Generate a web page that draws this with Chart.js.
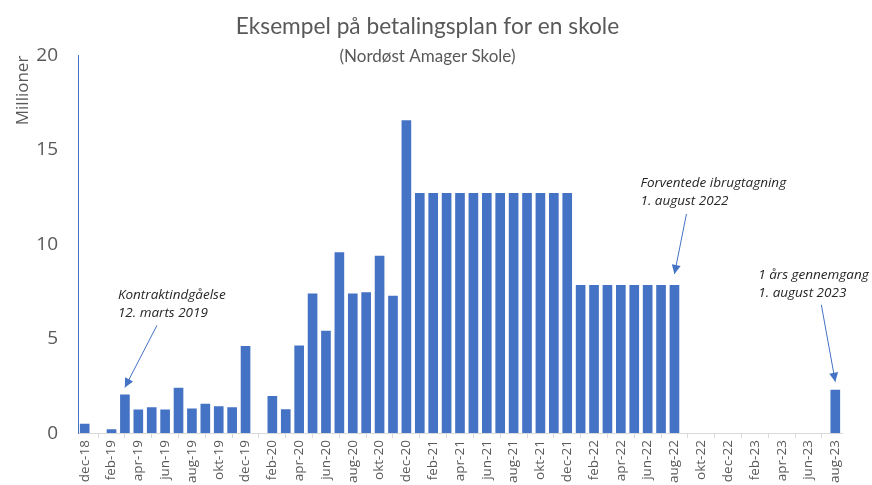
<!DOCTYPE html>
<html>
<head>
<meta charset="utf-8">
<script src="https://cdn.jsdelivr.net/npm/chart.js@4"></script>
<style>
  html, body { margin: 0; padding: 0; background: #fff; }
  #wrap { width: 872px; height: 485px; }
</style>
</head>
<body>
<div id="wrap"><canvas id="plan"></canvas></div>
<script>
'use strict';

const MONTHS = ['jan','feb','mar','apr','maj','jun','jul','aug','sep','okt','nov','dec'];
// dec-18 .. aug-23
const categories = ['dec-18'];
for (let y = 19; y <= 23; y++) {
  MONTHS.forEach((m, i) => { if (y < 23 || i < 8) categories.push(m + '-' + y); });
}

const payments = [
  0.5,                                                        // dec-18
  0, 0.2, 2.05, 1.25, 1.37, 1.25, 2.4, 1.3, 1.55, 1.42, 1.37, 4.62, // 2019
  0, 1.96, 1.26, 4.64, 7.4, 5.42, 9.58, 7.4, 7.46, 9.4, 7.28, 16.58, // 2020
  12.72, 12.72, 12.72, 12.72, 12.72, 12.72, 12.72, 12.72, 12.72, 12.72, 12.72, 12.72, // 2021
  7.85, 7.85, 7.85, 7.85, 7.85, 7.85, 7.85, 7.85, 0, 0, 0, 0,  // 2022
  0, 0, 0, 0, 0, 0, 0, 2.3                                   // 2023
];

const yTicks = [0, 5, 10, 15, 20];

const notes = [
  { cat: 'mar-19', lines: ['Kontraktindgåelse', '12. marts 2019'], gap: 7,  from: [32, -62],  text: [-7, -92] },
  { cat: 'aug-22', lines: ['Forventede ibrugtagning', '1. august 2022'], gap: 11, from: [12, -60], text: [-34, -91] },
  { cat: 'aug-23', lines: ['1 års gennemgang', '1. august 2023'], gap: 8, from: [-14, -77], text: [-77, -107] },
];

const BLUE = '#4472C4';
const GREY = '#595959';

const notePlugin = {
  id: 'notes',
  afterDatasetsDraw(chart) {
    const { ctx, scales: { x, y } } = chart;
    ctx.save();
    notes.forEach(n => {
      const i = categories.indexOf(n.cat);
      const tx = x.getPixelForValue(i);
      const ty = y.getPixelForValue(payments[i]) - n.gap;
      const sx = tx + n.from[0], sy = ty + n.from[1];
      // shaft
      ctx.strokeStyle = BLUE;
      ctx.lineWidth = 1;
      ctx.beginPath();
      ctx.moveTo(sx, sy);
      ctx.lineTo(tx, ty);
      ctx.stroke();
      // head
      const a = Math.atan2(ty - sy, tx - sx);
      const len = 9, w = 4.5;
      ctx.fillStyle = BLUE;
      ctx.beginPath();
      ctx.moveTo(tx, ty);
      ctx.lineTo(tx - len * Math.cos(a) + w * Math.sin(a), ty - len * Math.sin(a) - w * Math.cos(a));
      ctx.lineTo(tx - len * Math.cos(a) - w * Math.sin(a), ty - len * Math.sin(a) + w * Math.cos(a));
      ctx.closePath();
      ctx.fill();
      // text
      ctx.fillStyle = '#262626';
      ctx.font = 'italic 13.5px "Open Sans"';
      ctx.textAlign = 'left';
      ctx.textBaseline = 'middle';
      n.lines.forEach((t, k) => ctx.fillText(t, tx + n.text[0], ty + n.text[1] + k * 18));
    });
    ctx.restore();
  }
};

new Chart(document.getElementById('plan'), {
  type: 'bar',
  data: {
    labels: categories,
    datasets: [{
      data: payments,
      backgroundColor: BLUE,
      borderWidth: 0,
      barPercentage: 0.72,
      categoryPercentage: 1
    }]
  },
  options: {
    responsive: true,
    maintainAspectRatio: false,
    animation: false,
    layout: { padding: { left: 13, right: 30, top: 0, bottom: 0 } },
    plugins: {
      legend: { display: false },
      tooltip: { enabled: false },
      title: {
        display: true,
        text: 'Eksempel på betalingsplan for en skole',
        color: GREY,
        font: { family: 'Lato', size: 22.7, weight: 'normal' },
        padding: { top: 13, bottom: 6 }
      },
      subtitle: {
        display: true,
        text: '(Nordøst Amager Skole)',
        color: GREY,
        font: { family: 'Lato', size: 17 },
        padding: { top: 0, bottom: -11 }
      }
    },
    scales: {
      x: {
        offset: true,
        grid: { display: true, drawOnChartArea: false, offset: true, tickLength: 5, color: '#d9d9d9' },
        border: { display: true, color: '#d9d9d9' },
        ticks: {
          autoSkip: false,
          maxRotation: 90,
          minRotation: 90,
          color: GREY,
          font: { family: 'Open Sans', size: 13.5 },
          padding: 2,
          callback: (v, i) => (i % 2 === 0 ? categories[i] : null)
        }
      },
      y: {
        min: 0,
        max: 20,
        afterBuildTicks: axis => { axis.ticks = yTicks.map(v => ({ value: v })); },
        afterFit: axis => { axis.width = 65; },
        grid: { display: false },
        border: { display: true, color: BLUE },
        title: {
          display: true,
          text: 'Millioner',
          align: 'end',
          color: GREY,
          font: { family: 'Open Sans', size: 17 },
          padding: { top: 0, bottom: 4 }
        },
        ticks: {
          color: GREY,
          font: { family: 'Open Sans', size: 19 },
          padding: 12
        }
      }
    }
  },
  plugins: [notePlugin]
});
</script>
</body>
</html>
